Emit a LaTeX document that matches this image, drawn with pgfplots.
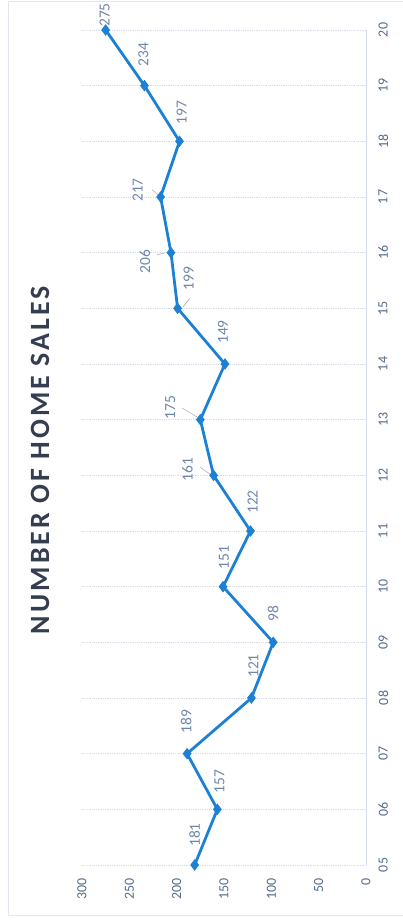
\documentclass[border=0pt]{standalone}
\usepackage{fontspec}
\setmainfont{Carlito}
\usepackage{pgfplots}
\pgfplotsset{compat=1.18}
\usepackage{pgfplotstable}

\definecolor{lineblue}{RGB}{28,128,212}
\definecolor{tickcol}{RGB}{85,108,140}
\definecolor{labelcol}{RGB}{112,134,168}
\definecolor{gridcol}{RGB}{214,220,232}
\definecolor{titlecol}{RGB}{52,62,80}
\definecolor{leadercol}{RGB}{170,180,195}

\pgfplotstableread{
year value dx dy
5 181 0 30
6 157 2 28
7 189 -1 32
8 121 2 32
9 98 0 29
10 151 1 29
11 122 2 29
12 161 -26 6
13 175 -30 12
14 149 -2 32
15 199 11 30
16 206 -26 -9
17 217 -23 7
18 197 2 29
19 234 -1 31
20 275 -1 15
}\datatable

\begin{document}
\begin{tikzpicture}
\useasboundingbox (-82bp,-57bp) rectangle (321bp,865bp);
\draw[gridcol!70, line width=0.5bp] (-74bp,864bp) -- (-74bp,-50bp) -- (321bp,-50bp);
\draw[gridcol!70, line width=0.5bp] (-74bp,864bp) -- (321bp,864bp);
\begin{axis}[
  at={(0,0)}, anchor=south west,
  scale only axis, width=284bp, height=835bp,
  xmin=0, xmax=300, x dir=reverse,
  ymin=5, ymax=20,
  xtick={0,50,...,300},
  ytick={5,...,20},
  yticklabels={05,06,07,08,09,10,11,12,13,14,15,16,17,18,19,20},
  /pgf/number format/assume math mode=true,
  xticklabel style={rotate=90, anchor=east, font=\fontsize{14}{16}\selectfont, text=tickcol, xshift=-10bp},
  yticklabel pos=right,
  yticklabel style={rotate=90, anchor=north, font=\fontsize{14}{16}\selectfont, text=tickcol, yshift=-9bp},
  major tick length=0pt,
  axis line style={draw=none},
  ymajorgrids,
  grid style={gridcol, line width=0.8bp, densely dotted},
  extra x ticks={0},
  extra x tick labels={},
  extra x tick style={xmajorgrids=true, grid style={gridcol, line width=0.9bp, solid}},
  clip=false,
]
\addplot[leadercol, line width=0.6bp] coordinates {(175.4,12.15) (164.8,12.02)};
\addplot[leadercol, line width=0.6bp] coordinates {(194.4,13.21) (178.5,13.05)};
\addplot[leadercol, line width=0.6bp] coordinates {(220.8,15.96) (212.3,16.0)};
\addplot[leadercol, line width=0.6bp] coordinates {(226,17.13) (219.7,17.04)};
\addplot[leadercol, line width=0.6bp] coordinates {(193,15.03) (186,15.18)};
\addplot[
  lineblue, line width=2.8bp,
  mark=diamond*, mark size=5bp, mark options={fill=lineblue, solid, line width=1bp},
  visualization depends on={\thisrow{dx}\as\dx},
  visualization depends on={\thisrow{dy}\as\dy},
  point meta=explicit,
  nodes near coords,
  nodes near coords style={xshift=\dx bp, yshift=\dy bp, rotate=90, anchor=center,
     font=\fontsize{15.5}{17}\selectfont, text=labelcol},
] table[x=value, y=year, meta=value] {\datatable};
\end{axis}
\node[rotate=90, font=\bfseries\fontsize{28}{32}\selectfont\addfontfeature{LetterSpace=11}, text=titlecol] at (-42bp,405bp) {NUMBER OF HOME SALES};
\end{tikzpicture}
\end{document}
